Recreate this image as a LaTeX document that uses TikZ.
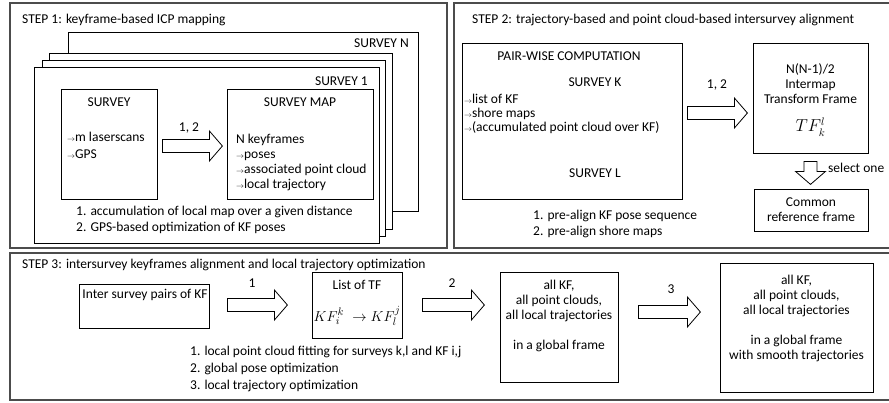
\documentclass[tikz,border=0pt]{standalone}
\usepackage{fontspec}
\usepackage{graphicx}
\setmainfont{Carlito}
\usetikzlibrary{positioning, calc}

\newcommand{\fs}[1]{\fontsize{13.5}{#1}\selectfont}
\newcommand{\itm}{\raisebox{0.2pt}{\scalebox{0.55}{$\rightarrow$}}}

\tikzset{
  pics/blockarr/.style={code={
    \draw[line width=0.8pt, fill=white] (0,-6.5) -- (#1-13,-6.5) -- (#1-13,-15) -- (#1,0)
      -- (#1-13,15) -- (#1-13,6.5) -- (0,6.5) -- cycle;
  }},
}

\begin{document}
\begin{tikzpicture}[x=1pt, y=-1pt,
    every node/.style={font=\fs{15}, inner sep=0pt},
    frame/.style={draw=black!70, line width=1.3pt},
    sheet/.style={draw, line width=0.8pt, fill=white},
    box/.style={draw, line width=0.8pt, fill=white, inner sep=0pt},
    txt/.style={align=left, anchor=west},
    mid/.style={align=center},
]
\useasboundingbox (0,0) rectangle (889,402);
\clip (0,0) rectangle (889,402);

% STEP 1
\draw[frame] (10,3) rectangle (447,248);
\node[txt] (title1) at (22,20) {STEP 1: keyframe-based ICP mapping};

% stacked surveys
\draw[sheet] (68,32) rectangle (418,211);
\draw[sheet] (49,53) rectangle (392,229);
\draw[sheet] (42,60) rectangle (385,236);
\draw[sheet] (34,67) rectangle (379,243);
\node[anchor=east] (lbln) at (409,43) {SURVEY N};
\node[anchor=east] (lbl1) at (368,81) {SURVEY 1};

\node[box, minimum width=96pt, minimum height=110pt] (survey) at (109,144) {};
\node (surveyt) at (109,102) {SURVEY};
\node[txt, font=\fs{17}] (surveyi) at (67,145.5) {\itm m laserscans\\\itm GPS};

\node[box, minimum width=146pt, minimum height=110pt] (svmap) at (300,144) {};
\node (svmapt) at (300,102) {SURVEY MAP};
\node[txt] (svmapi) at (236,162.5) {N keyframes\\\itm poses\\\itm associated point cloud\\\itm local trajectory};

\pic at ($(survey.east)+(5,2)$) {blockarr=60};
\node (lbla) at (189,128) {1, 2};

\node[txt, font=\fs{16}] (notes1) at (76,220) {1. accumulation of local map over a given distance\\2. GPS-based optimization of KF poses};

% STEP 2
\draw[frame] (454,3) rectangle (895,248);
\node[txt] (title2) at (472,20) {STEP 2: trajectory-based and point cloud-based intersurvey alignment};

\node[box, minimum width=220pt, minimum height=156pt] (pairwise) at (572,121) {};
\node (pairwiset) at (569,56) {PAIR-WISE COMPUTATION};
\node (survk) at (595,82) {SURVEY K};
\node[txt, font=\fs{14}] (pairwisei) at (464,114) {\itm list of KF\\\itm shore maps\\\itm (accumulated point cloud over KF)};
\node (survl) at (595,173) {SURVEY L};

\pic at ($(pairwise.east)+(5,-8)$) {blockarr=60};
\node (lblb) at (717,85) {1, 2};

\node[box, minimum width=115pt, minimum height=110pt] (tfbox) at (810.5,98) {};
\node[mid] (tfboxt) at (810.5,84) {N(N-1)/2\\Intermap\\Transform Frame};
\node (tfboxm) at (810.5,127) {\fontsize{16}{18}\selectfont$TF_k^l$};

\pic[rotate=-90] at ($(tfbox.south)+(0,8)$) {blockarr=23};
\node[anchor=west] (lblsel) at (828,168) {select one};

\node[box, mid, minimum width=114pt, minimum height=42pt] (common) at (811,210) {Common\\reference frame};

\node[txt, font=\fs{16}] (notes2) at (533,224) {1. pre-align KF pose sequence\\2. pre-align shore maps};

% STEP 3
\draw[frame] (10,253) rectangle (895,400);
\node[txt] (title3) at (22,265) {STEP 3: intersurvey keyframes alignment and local trajectory optimization};

\node[box, minimum width=130pt, minimum height=44pt] (pairs) at (144,306) {};
\node (pairst) at (145,295) {Inter survey pairs of KF};

\pic at ($(pairs.east)+(18,-1)$) {blockarr=60};
\node (lblc) at (252,283) {1};

\node[box, minimum width=90pt, minimum height=66pt] (tflist) at (357,305) {};
\node (tflistt) at (357,285) {List of TF};
\node (tflistm) at (357,316) {\fontsize{15}{18}\selectfont$KF_i^k\;\rightarrow KF_l^j$};

\pic at ($(tflist.east)+(20,0)$) {blockarr=62};
\node (lbld) at (452,283) {2};

\node[box, minimum width=118pt, minimum height=110pt] (global) at (559,327) {};
\node[mid] (globalt) at (559,316) {all KF,\\all point clouds,\\all local trajectories\\[15pt]in a global frame};

\pic at ($(global.east)+(20,-15)$) {blockarr=62};
\node (lble) at (671,289) {3};

\node[box, minimum width=153pt, minimum height=129pt] (smooth) at (796.5,327.5) {};
\node[mid] (smootht) at (796.5,318.5) {all KF,\\all point clouds,\\all local trajectories\\[15pt]in a global frame\\with smooth trajectories};

\node[txt, font=\fs{17}] (notes3) at (190,369) {1. local point cloud fitting for surveys k,l and KF i,j\\2. global pose optimization\\3. local trajectory optimization};

\end{tikzpicture}
\end{document}
